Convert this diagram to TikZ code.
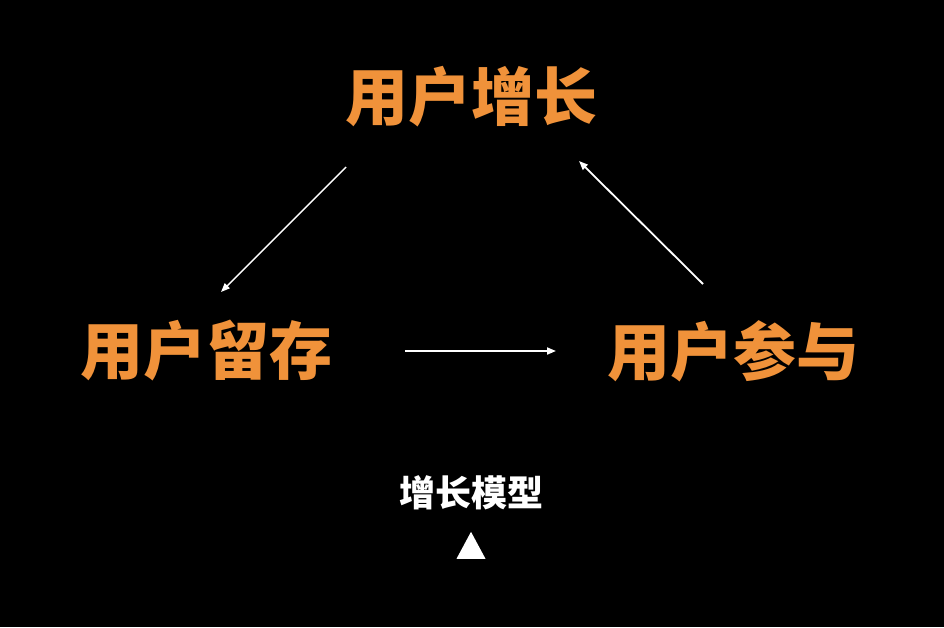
\documentclass[tikz,border=0pt]{standalone}
\usepackage{fontspec}
\newfontfamily\cjk{Noto Sans CJK SC}
\usetikzlibrary{arrows.meta,shapes.geometric}
\definecolor{accent}{HTML}{F0923A}
\tikzset{
  big/.style={text=accent, font=\cjk\bfseries\fontsize{63}{70}\selectfont, inner sep=0pt},
  small/.style={text=white, font=\cjk\bfseries\fontsize{36}{40}\selectfont, inner sep=0pt},
  flow/.style={draw=white, line width=1.8pt, -{Triangle[length=9pt,width=7pt]}},
  marker/.style={fill=white, isosceles triangle, isosceles triangle stretches=true, shape border rotate=90, minimum height=27pt, minimum width=29pt, inner sep=0pt}
}
\begin{document}
\begin{tikzpicture}[x=1pt,y=-1pt]
\fill[black] (0,0) rectangle (944,627);
\useasboundingbox (0,0) rectangle (944,627);
\node[big] (grow) at (471,97) {用户增长};
\node[big] (keep) at (206,351) {用户留存};
\node[big] (join) at (733,351) {用户参与};
\node[small] (model) at (471,493) {增长模型};
\node[marker, anchor=south] (tri) at (471,559) {};
\coordinate (a1) at (346,167);
\coordinate (a2) at (221,292);
\coordinate (b1) at (703,284);
\coordinate (b2) at (579,161);
\coordinate (c1) at (405,351);
\coordinate (c2) at (556,351);
\draw[flow, line width=1.4pt] (a1) -- (a2);
\draw[flow] (b1) -- (b2);
\draw[flow] (c1) -- (c2);
\end{tikzpicture}
\end{document}
